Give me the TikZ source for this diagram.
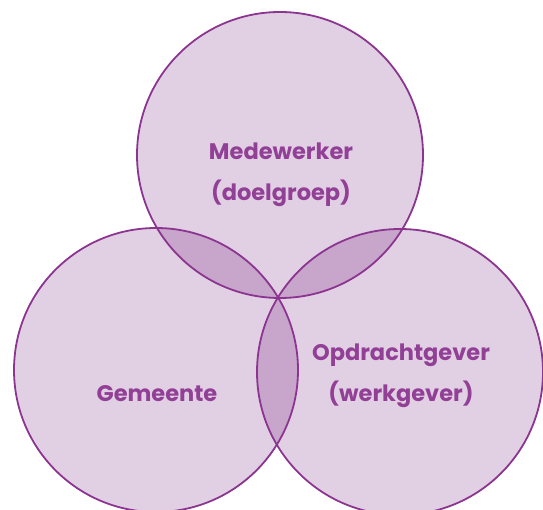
\documentclass[tikz,border=0pt]{standalone}
\usepackage{fontspec}
\setmainfont{Poppins}
\definecolor{ringfill}{HTML}{E1D0E4}
\definecolor{lensfill}{HTML}{C8A5CB}
\definecolor{ringline}{HTML}{8C3590}
\definecolor{labeltext}{HTML}{923F96}
\tikzset{
  ringlabel/.style={text=labeltext, font=\bfseries\fontsize{22.5}{41.5}\selectfont, align=center, inner sep=0pt},
  ringedge/.style={draw=ringline, line width=1.8pt},
}
\begin{document}
\begin{tikzpicture}[x=1pt,y=-1pt]
\useasboundingbox (0,0) rectangle (543,510);
% circle centres and radii
\coordinate (cm) at (280,155); \def\rm{143}
\coordinate (cg) at (156,370); \def\rg{142}
\coordinate (co) at (400,372); \def\ro{143}
% base fills
\fill[ringfill] (cm) circle (\rm);
\fill[ringfill] (cg) circle (\rg);
\fill[ringfill] (co) circle (\ro);
% pairwise overlaps
\begin{scope}
  \clip (cm) circle (\rm);
  \fill[lensfill] (cg) circle (\rg);
  \fill[lensfill] (co) circle (\ro);
\end{scope}
\begin{scope}
  \clip (cg) circle (\rg);
  \fill[lensfill] (co) circle (\ro);
\end{scope}
% outlines
\draw[ringedge] (cm) circle (\rm);
\draw[ringedge] (cg) circle (\rg);
\draw[ringedge] (co) circle (\ro);
% labels
\node[ringlabel] (med) at (281,175) {Medewerker\\(doelgroep)};
\node[ringlabel] (gem) at (157,394) {Gemeente};
\node[ringlabel] (opd) at (401,376) {Opdrachtgever\\(werkgever)};
\end{tikzpicture}
\end{document}
